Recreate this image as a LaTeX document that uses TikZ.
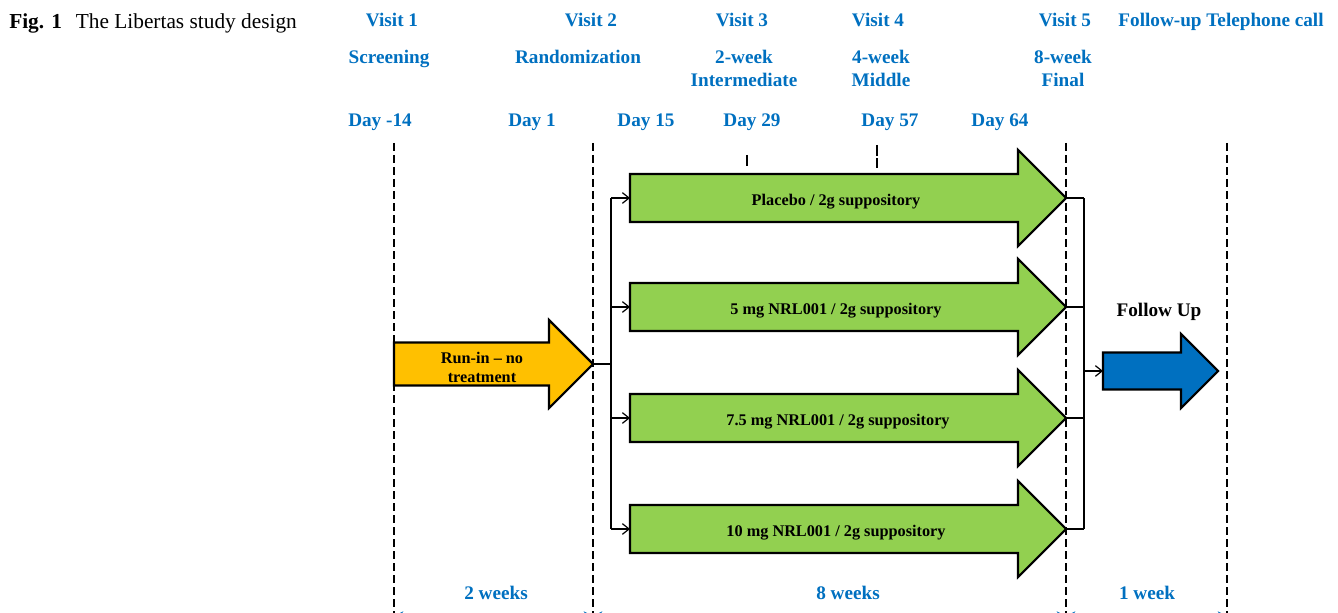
\documentclass[tikz,border=0pt]{standalone}
\usepackage{fontspec}
\setmainfont{Liberation Serif}
\usepackage{tikz}
\usetikzlibrary{arrows.meta,calc}
\definecolor{hdrblue}{RGB}{0,112,192}
\definecolor{armgreen}{RGB}{146,208,80}
\definecolor{runorange}{RGB}{255,192,0}
\definecolor{fupblue}{RGB}{0,112,192}
\tikzstyle{hdr}=[text=hdrblue,font=\bfseries\fontsize{14.4}{17.3}\selectfont,
                 anchor=base,inner sep=0pt,align=center]
\tikzstyle{armtext}=[font=\bfseries\fontsize{12.2}{13.5}\selectfont,
                     anchor=base,inner sep=0pt,align=center]
\tikzstyle{arrowbox}=[draw=black,line width=1.6pt,line join=miter]
\tikzstyle{timeline}=[line width=1.3pt,dash pattern=on 6pt off 3pt]
\tikzstyle{link}=[line width=0.9pt]
\tikzstyle{flow}=[line width=0.9pt,-{Straight Barb[length=5pt,width=8pt]}]
\tikzstyle{span}=[hdrblue,line width=0.9pt,
                  {Stealth[length=7pt,width=7pt]}-{Stealth[length=7pt,width=7pt]}]
% name, colour, tail x, tip x, y, body half, head half
\newcommand{\fatarrow}[7]{
  \coordinate (#1-tail) at (#3,#5);
  \coordinate (#1-tip) at (#4,#5);
  \draw[arrowbox,fill=#2] (#3,#5-#6) -- (#4-#7,#5-#6) -- (#4-#7,#5-#7)
    -- (#4,#5) -- (#4-#7,#5+#7) -- (#4-#7,#5+#6) -- (#3,#5+#6) -- cycle;
}
\begin{document}
\begin{tikzpicture}[x=0.75pt,y=-0.75pt]
  \useasboundingbox (0,0) rectangle (1338,613);

  \node (cap) at (9,29) [anchor=base west,inner sep=0pt,
      font=\fontsize{16}{19}\selectfont]
      {\textbf{Fig. 1}\hspace{0.65em}The Libertas study design};

  \node (v1) at (392,27) [hdr]{Visit 1};
  \node (v2) at (591,27) [hdr]{Visit 2};
  \node (v3) at (742,27) [hdr]{Visit 3};
  \node (v4) at (878,27) [hdr]{Visit 4};
  \node (v5) at (1065,27) [hdr]{Visit 5};
  \node (v6) at (1221,27) [hdr]{Follow-up Telephone call};

  \node (screen) at (389,64) [hdr]{Screening};
  \node (random) at (578,64) [hdr]{Randomization};
  \node (inter)  at (744,87) [hdr]{2-week\\Intermediate};
  \node (middle) at (881,87) [hdr]{4-week\\Middle};
  \node (final)  at (1063,87) [hdr]{8-week\\Final};

  \node (d1) at (380,127) [hdr]{Day -14};
  \node (d2) at (532,127) [hdr]{Day 1};
  \node (d3) at (646,127) [hdr]{Day 15};
  \node (d4) at (752,127) [hdr]{Day 29};
  \node (d5) at (890,127) [hdr]{Day 57};
  \node (d6) at (1000,127) [hdr]{Day 64};

  \coordinate (t1) at (394,143);
  \coordinate (t2) at (593,143);
  \coordinate (t3) at (1066,143);
  \coordinate (t4) at (1227,143);
  \foreach \t in {t1,t2,t3,t4}
    \draw[timeline] (\t) -- ++(0,470);
  \coordinate (k1) at (747,155);
  \coordinate (k2) at (877,145);
  \draw[timeline,dash pattern=on 8pt off 2pt] (k1) -- (747,168);
  \draw[timeline,dash pattern=on 8pt off 2pt] (k2) -- (877,168);

  \fatarrow{runin}{runorange}{394}{593}{364}{21.5}{44}
  \fatarrow{arm1}{armgreen}{630}{1066}{198}{24}{48}
  \fatarrow{arm2}{armgreen}{630}{1066}{307}{24}{48}
  \fatarrow{arm3}{armgreen}{630}{1066}{418}{24}{48}
  \fatarrow{arm4}{armgreen}{630}{1066}{529}{24}{48}
  \fatarrow{fup}{fupblue}{1103}{1218}{371}{18.5}{37}

  \node (runlbl) at (482,382) [armtext,font=\bfseries\fontsize{12.2}{13.8}\selectfont]{Run-in -- no\\treatment};
  \node (lbl1) at (836,205) [armtext]{Placebo / 2g suppository};
  \node (lbl2) at (836,314) [armtext]{5 mg NRL001 / 2g suppository};
  \node (lbl3) at (838,425) [armtext]{7.5 mg NRL001 / 2g suppository};
  \node (lbl4) at (836,536) [armtext]{10 mg NRL001 / 2g suppository};
  \node (fuplbl) at (1159,316) [armtext,font=\bfseries\fontsize{14.4}{17}\selectfont]{Follow Up};

  \coordinate (split) at (611,364);
  \coordinate (merge) at (1084,371);
  \draw[link] (runin-tip) -- (split);
  \draw[link] (split |- arm1-tail) -- (split |- arm4-tail);
  \foreach \a in {arm1,arm2,arm3,arm4}
    \draw[flow] (split |- \a-tail) -- (\a-tail);
  \foreach \a in {arm1,arm2,arm3,arm4}
    \draw[link] (\a-tip) -- (merge |- \a-tip);
  \draw[link] (merge |- arm1-tip) -- (merge |- arm4-tip);
  \draw[flow] (merge) -- (fup-tail);

  \node (w1) at (496,599) [hdr]{2 weeks};
  \node (w2) at (848,599) [hdr]{8 weeks};
  \node (w3) at (1147,599) [hdr]{1 week};
  \draw[span] (t1 |- 0,616) -- (t2 |- 0,616);
  \draw[span] (t2 |- 0,616) -- (t3 |- 0,616);
  \draw[span] (t3 |- 0,616) -- (t4 |- 0,616);
\end{tikzpicture}
\end{document}
